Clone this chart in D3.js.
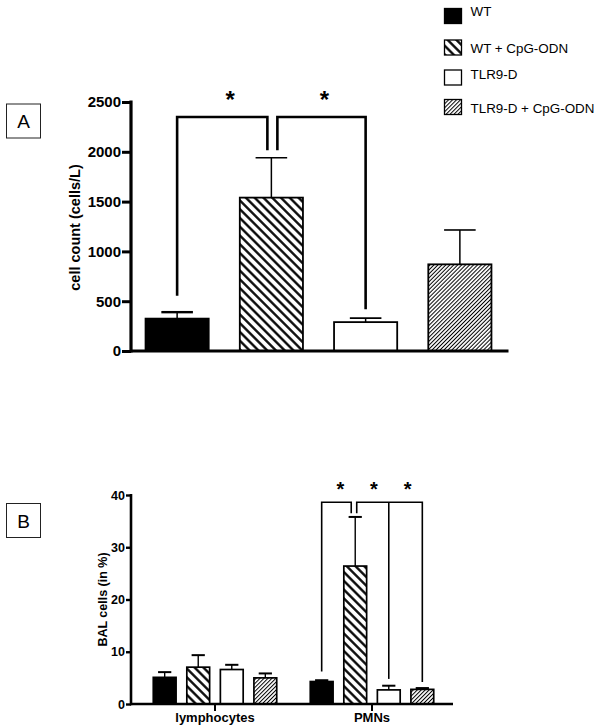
<!DOCTYPE html>
<html>
<head>
<meta charset="utf-8">
<script src="https://cdn.jsdelivr.net/npm/d3@7"></script>
<style>
  body { margin: 0; background: #fff; }
  text { font-family: "Liberation Sans", Arial, sans-serif; }
</style>
</head>
<body>
<div class="chart"></div>
<script>
// groups / legend
var groups = ["WT", "WT + CpG-ODN", "TLR9-D", "TLR9-D + CpG-ODN"];
var groupFill = ["solid", "wide", "empty", "fine"];

// panel A: total cell count
var countMean = [325, 1540, 290, 870];
var countErr = [65, 400, 40, 345];
var countTicks = [0, 500, 1000, 1500, 2000, 2500];

// panel B: BAL cell differentials (in %)
var cellTypes = ["lymphocytes", "PMNs"];
var balMean = [[5.1, 7.05, 6.6, 5.0], [4.3, 26.4, 2.7, 2.8]];
var balErr = [[1.0, 2.3, 0.9, 0.85], [0.25, 9.4, 0.8, 0.25]];
var balTicks = [0, 10, 20, 30, 40];

// significance brackets (group index, stem bottom value)
var sigA = {top: 2350, inner: 2015, left: [0, 555], right: [2, 420]};
var sigB = {top: 38.6, inner: 36.5, left: [0, 6.2], right: [[2, 4.8], [3, 4.2]]};

var W = 600, H = 728;

var svg = d3.select(".chart").append("svg")
  .attr("width", W).attr("height", H);
svg.append("rect").attr("width", W).attr("height", H).attr("fill", "#fff");

// hatch patterns
var defs = svg.append("defs");
function hatch(id, size, sw, angle) {
  var p = defs.append("pattern")
    .attr("id", id)
    .attr("patternUnits", "userSpaceOnUse")
    .attr("width", size).attr("height", size)
    .attr("patternTransform", "rotate(" + angle + ")");
  p.append("rect").attr("width", size).attr("height", size).attr("fill", "#fff");
  p.append("line")
    .attr("x1", size / 2).attr("y1", 0).attr("x2", size / 2).attr("y2", size)
    .attr("stroke", "#000").attr("stroke-width", sw);
}
hatch("wide", 6.2, 2.3, -45);
hatch("fine", 2.8, 1.0, 45);

function fillOf(i) {
  var f = groupFill[i];
  if (f == "solid") return "#000";
  if (f == "empty") return "#fff";
  return "url(#" + f + ")";
}

// panel labels
function panelBox(label, x, y) {
  svg.append("rect").attr("x", x).attr("y", y).attr("width", 34).attr("height", 34)
    .attr("fill", "#fff").attr("stroke", "#222").attr("stroke-width", 1);
  svg.append("text").attr("x", x + 17).attr("y", y + 24)
    .attr("text-anchor", "middle").style("font-size", "19px").text(label);
}
panelBox("A", 6.5, 104);
panelBox("B", 6.5, 503.5);

// legend
var legY = [8.5, 40, 70, 99.5];
var legText = [16, 53, 79, 113];
var leg = svg.append("g").attr("class", "legend");
leg.selectAll("rect").data(groups).enter().append("rect")
  .attr("x", 444.5).attr("y", function(d, i) { return legY[i]; })
  .attr("width", 17).attr("height", 15)
  .attr("fill", function(d, i) { return fillOf(i); })
  .attr("stroke", "#000").attr("stroke-width", 1.3);
leg.selectAll("text").data(groups).enter().append("text")
  .attr("x", 470.5).attr("y", function(d, i) { return legText[i]; })
  .style("font-size", "13.4px")
  .text(function(d) { return d; });

// ---------- panel A ----------
var xA = d3.scaleBand().domain(d3.range(groups.length)).range([130, 507])
  .paddingInner(0.33).paddingOuter(0.165);
var yA = d3.scaleLinear().domain([0, 2500]).range([351, 102]);

var gA = svg.append("g");
function cx(i) { return xA(i) + xA.bandwidth() / 2; }

// error bars
var errA = gA.append("g").attr("stroke", "#000").attr("stroke-width", 1.5);
countMean.forEach(function(m, i) {
  var c = cx(i), half = xA.bandwidth() * 0.25;
  errA.append("line").attr("x1", c).attr("x2", c)
    .attr("y1", yA(m)).attr("y2", yA(m + countErr[i]));
  errA.append("line").attr("x1", c - half).attr("x2", c + half)
    .attr("y1", yA(m + countErr[i])).attr("y2", yA(m + countErr[i]))
    .attr("stroke-width", i == 0 ? 2.4 : 1.6);
});

gA.selectAll(".bar").data(countMean).enter().append("rect")
  .attr("class", "bar")
  .attr("x", function(d, i) { return xA(i); })
  .attr("y", function(d) { return yA(d); })
  .attr("width", xA.bandwidth())
  .attr("height", function(d) { return yA(0) - yA(d); })
  .attr("fill", function(d, i) { return fillOf(i); })
  .attr("stroke", "#000").attr("stroke-width", 1.8);

// axes
var axA = gA.append("g").attr("transform", "translate(131,0)")
  .call(d3.axisLeft(yA).tickValues(countTicks).tickFormat(d3.format("d"))
    .tickSize(9).tickSizeOuter(0).tickPadding(1));
axA.select(".domain").attr("stroke-width", 3.2);
axA.selectAll(".tick line").attr("stroke-width", 3);
axA.selectAll(".tick text").style("font-size", "15px").style("font-weight", "bold")
  .attr("fill", "#000");
axA.select(".domain").attr("d", "M0," + (yA(2500) - 1.5) + "V" + (yA(0) + 1.5));

var bxA = gA.append("g").attr("transform", "translate(0," + yA(0) + ")")
  .call(d3.axisBottom(xA).tickValues([]).tickSizeOuter(0));
bxA.select(".domain").attr("stroke-width", 3.2).attr("d", "M130,0H508.5");

gA.append("text")
  .attr("transform", "translate(80," + (yA(1250) + 1) + ") rotate(-90)")
  .attr("text-anchor", "middle")
  .style("font-size", "14.5px").style("font-weight", "bold")
  .text("cell count (cells/L)");

// brackets A
var brA = gA.append("g").attr("fill", "none").attr("stroke", "#000").attr("stroke-width", 2.6);
var midA = cx(1);
brA.append("path").attr("d",
  "M" + cx(sigA.left[0]) + "," + yA(sigA.left[1]) +
  "V" + yA(sigA.top) + "H" + (midA - 4) + "V" + yA(sigA.inner));
brA.append("path").attr("d",
  "M" + (midA + 6) + "," + yA(sigA.inner) +
  "V" + yA(sigA.top) + "H" + cx(sigA.right[0]) + "V" + yA(sigA.right[1]));
[[0, 1], [1, 2]].forEach(function(p) {
  gA.append("text")
    .attr("x", (cx(p[0]) + cx(p[1])) / 2 + 6).attr("y", 108)
    .attr("text-anchor", "middle")
    .style("font-size", "24px").style("font-weight", "bold")
    .text("*");
});

// ---------- panel B ----------
var x0 = d3.scaleBand().domain(cellTypes).range([136.5, 450.5]);
var x1 = d3.scaleBand().domain(d3.range(groups.length)).range([0, x0.bandwidth()])
  .paddingInner(0.32).paddingOuter(0.5);
var yB = d3.scaleLinear().domain([0, 40]).range([704, 495]);

var gB = svg.append("g");
function bx(t, i) { return x0(cellTypes[t]) + x1(i) + x1.bandwidth() / 2; }

var errB = gB.append("g").attr("stroke", "#000").attr("stroke-width", 1.4);
balMean.forEach(function(row, t) {
  row.forEach(function(m, i) {
    var c = bx(t, i), half = x1.bandwidth() * 0.29;
    errB.append("line").attr("x1", c).attr("x2", c)
      .attr("y1", yB(m)).attr("y2", yB(m + balErr[t][i]));
    errB.append("line").attr("x1", c - half).attr("x2", c + half)
      .attr("y1", yB(m + balErr[t][i])).attr("y2", yB(m + balErr[t][i]))
      .attr("stroke-width", 2);
  });
});

var grp = gB.selectAll(".grp").data(balMean).enter().append("g")
  .attr("class", "grp")
  .attr("transform", function(d, t) { return "translate(" + x0(cellTypes[t]) + ",0)"; });
grp.selectAll("rect").data(function(d) { return d; }).enter().append("rect")
  .attr("x", function(d, i) { return x1(i); })
  .attr("y", function(d) { return yB(d); })
  .attr("width", x1.bandwidth())
  .attr("height", function(d) { return yB(0) - yB(d); })
  .attr("fill", function(d, i) { return fillOf(i); })
  .attr("stroke", "#000").attr("stroke-width", 1.7);

var axB = gB.append("g").attr("transform", "translate(131,0)")
  .call(d3.axisLeft(yB).tickValues(balTicks).tickSize(5).tickSizeOuter(0).tickPadding(1));
axB.select(".domain").attr("stroke-width", 2.6).attr("d", "M0," + (yB(40) - 1) + "V" + (yB(0) + 1.2));
axB.selectAll(".tick line").attr("stroke-width", 2.4);
axB.selectAll(".tick text").style("font-size", "12.5px").style("font-weight", "bold")
  .attr("fill", "#000");

var bxB = gB.append("g").attr("transform", "translate(0," + yB(0) + ")")
  .call(d3.axisBottom(x0).tickSize(7).tickSizeOuter(0).tickPadding(1.5));
bxB.select(".domain").attr("stroke-width", 2.6).attr("d", "M130,0H453");
bxB.selectAll(".tick line").attr("stroke-width", 2);
bxB.selectAll(".tick text").style("font-size", "13px").style("font-weight", "bold")
  .attr("fill", "#000");

gB.append("text")
  .attr("transform", "translate(107," + yB(20) + ") rotate(-90)")
  .attr("text-anchor", "middle")
  .style("font-size", "12.5px").style("font-weight", "bold")
  .text("BAL cells (in %)");

// brackets B
var brB = gB.append("g").attr("fill", "none").attr("stroke", "#000").attr("stroke-width", 1.6);
var midB = bx(1, 1);
brB.append("path").attr("d",
  "M" + bx(1, sigB.left[0]) + "," + yB(sigB.left[1]) +
  "V" + yB(sigB.top) + "H" + (midB - 4) + "V" + yB(sigB.inner));
brB.append("path").attr("d",
  "M" + (midB + 1.5) + "," + yB(sigB.inner) +
  "V" + yB(sigB.top) + "H" + bx(1, sigB.right[1][0]) + "V" + yB(sigB.right[1][1]));
brB.append("path").attr("d",
  "M" + bx(1, sigB.right[0][0]) + "," + yB(sigB.top) + "V" + yB(sigB.right[0][1]));
[[0, 1], [1, 2], [2, 3]].forEach(function(p) {
  gB.append("text")
    .attr("x", (bx(1, p[0]) + bx(1, p[1])) / 2 + 2).attr("y", 496)
    .attr("text-anchor", "middle")
    .style("font-size", "20px").style("font-weight", "bold")
    .text("*");
});
</script>
</body>
</html>
